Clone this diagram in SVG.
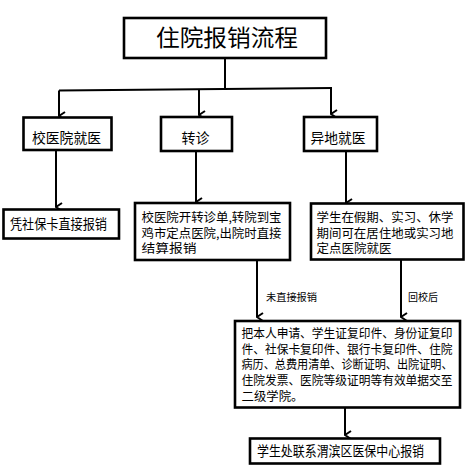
<svg xmlns="http://www.w3.org/2000/svg" width="471" height="469" viewBox="0 0 471 469">
<style>
.box{fill:#fff;stroke:#000;stroke-width:2.6}
.ln{fill:none;stroke:#000;stroke-width:2}
.t{font-family:"Noto Sans CJK SC","Liberation Sans",sans-serif;fill:#000}
.s{font-size:13.5px}
.m{font-size:12.5px}
.lab{font-size:10px}
</style>
<defs>
<marker id="ah" viewBox="0 0 10 10" refX="5" refY="9" markerWidth="10" markerHeight="10" markerUnits="userSpaceOnUse" orient="auto-start-reverse">
<polyline points="1,3 5,9 9,3" fill="none" stroke="#000" stroke-width="2"/>
</marker>
</defs>
<rect width="471" height="469" fill="#fff"/>
<g id="connectors">
<polyline class="ln" points="225,58 225,89"/>
<polyline class="ln" points="59,90.5 332,88"/>
<line class="ln" x1="59" y1="90.5" x2="59" y2="116" marker-end="url(#ah)"/>
<line class="ln" x1="199" y1="89" x2="199" y2="115" marker-end="url(#ah)"/>
<line class="ln" x1="331" y1="88" x2="331" y2="114" marker-end="url(#ah)"/>
<line class="ln" x1="56" y1="150" x2="56" y2="207" marker-end="url(#ah)"/>
<line class="ln" x1="196" y1="151" x2="196" y2="202" marker-end="url(#ah)"/>
<line class="ln" x1="346" y1="151" x2="346" y2="203" marker-end="url(#ah)"/>
<line class="ln" x1="257" y1="260" x2="257" y2="317" marker-end="url(#ah)"/>
<line class="ln" x1="401" y1="259" x2="401" y2="317" marker-end="url(#ah)"/>
<line class="ln" x1="345" y1="407" x2="345" y2="435" marker-end="url(#ah)"/>
<text class="t lab" x="266" y="300.5" textLength="51" lengthAdjust="spacingAndGlyphs">未直接报销</text>
<text class="t lab" x="408" y="300.5" textLength="30" lengthAdjust="spacingAndGlyphs">回校后</text>
</g>
<g id="title">
<rect class="box" x="124" y="18" width="202" height="40"/>
<text class="t" x="156" y="46" font-size="23" textLength="142" lengthAdjust="spacingAndGlyphs">住院报销流程</text>
</g>
<g id="n1">
<rect class="box" x="23.5" y="117.5" width="88" height="32.5"/>
<text class="t s" x="32" y="142.5" textLength="69" lengthAdjust="spacingAndGlyphs">校医院就医</text>
</g>
<g id="n2">
<rect class="box" x="161" y="117" width="71" height="34"/>
<text class="t s" x="181.5" y="142.5" textLength="28" lengthAdjust="spacingAndGlyphs">转诊</text>
</g>
<g id="n3">
<rect class="box" x="304" y="117" width="73" height="34"/>
<text class="t s" x="310.5" y="142.5" textLength="55" lengthAdjust="spacingAndGlyphs">异地就医</text>
</g>
<g id="n4">
<rect class="box" x="3.5" y="209.5" width="115.5" height="29"/>
<text class="t s" x="10" y="229" textLength="97" lengthAdjust="spacingAndGlyphs">凭社保卡直接报销</text>
</g>
<g id="n5">
<rect class="box" x="135" y="203" width="155" height="57"/>
<text class="t m" x="141.5" y="221.5" textLength="140" lengthAdjust="spacingAndGlyphs">校医院开转诊单,转院到宝</text>
<text class="t m" x="141.5" y="237.5" textLength="140" lengthAdjust="spacingAndGlyphs">鸡市定点医院,出院时直接</text>
<text class="t m" x="141.5" y="252.5" textLength="55" lengthAdjust="spacingAndGlyphs">结算报销</text>
</g>
<g id="n6">
<rect class="box" x="311" y="203.5" width="152.5" height="56"/>
<text class="t m" x="316.5" y="221.5" textLength="137" lengthAdjust="spacingAndGlyphs">学生在假期、实习、休学</text>
<text class="t m" x="316.5" y="237.5" textLength="137" lengthAdjust="spacingAndGlyphs">期间可在居住地或实习地</text>
<text class="t m" x="316.5" y="252.5" textLength="75" lengthAdjust="spacingAndGlyphs">定点医院就医</text>
</g>
<g id="n7">
<rect class="box" x="235" y="321" width="225" height="86.5"/>
<text class="t m" x="241.5" y="338" textLength="211" lengthAdjust="spacingAndGlyphs">把本人申请、学生证复印件、身份证复印</text>
<text class="t m" x="241.5" y="354" textLength="211" lengthAdjust="spacingAndGlyphs">件、社保卡复印件、银行卡复印件、住院</text>
<text class="t m" x="241.5" y="369" textLength="211" lengthAdjust="spacingAndGlyphs">病历、总费用清单、诊断证明、出院证明、</text>
<text class="t m" x="241.5" y="385" textLength="211" lengthAdjust="spacingAndGlyphs">住院发票、医院等级证明等有效单据交至</text>
<text class="t m" x="241.5" y="401" textLength="62" lengthAdjust="spacingAndGlyphs">二级学院。</text>
</g>
<g id="n8">
<rect class="box" x="250" y="438.5" width="190" height="25"/>
<text class="t s" x="257" y="455.5" textLength="167" lengthAdjust="spacingAndGlyphs">学生处联系渭滨区医保中心报销</text>
</g>
</svg>
